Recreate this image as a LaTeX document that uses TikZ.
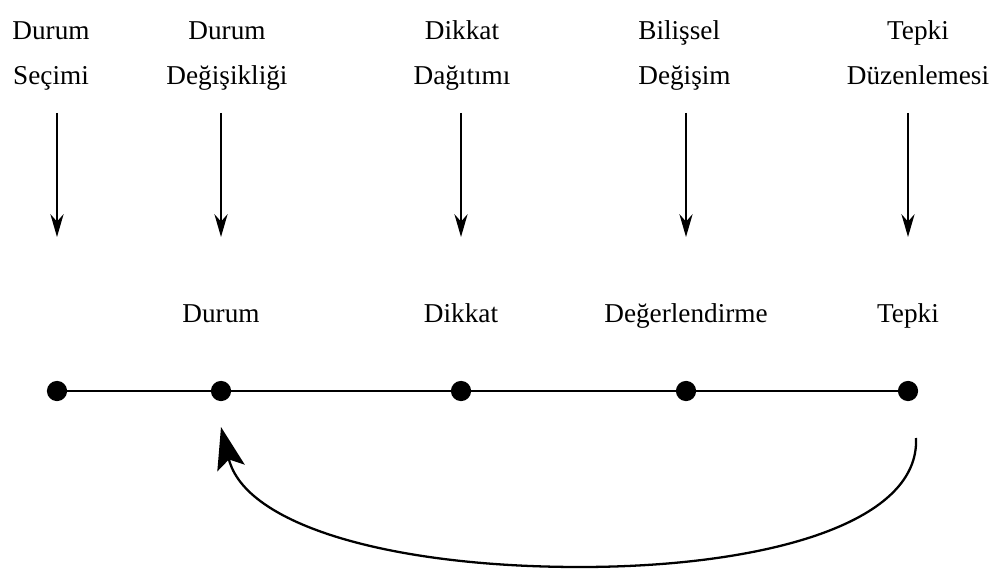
\documentclass[tikz,border=0pt]{standalone}
\usepackage{fontspec}
\setmainfont{Liberation Serif}
\usetikzlibrary{arrows.meta}
\begin{document}
\begin{tikzpicture}[x=0.02cm,y=-0.02cm,
    etiket/.style={align=center,inner sep=0pt,font=\fontsize{15.5}{25.5}\selectfont},
    ok/.style={-{Stealth[length=13pt,width=7.5pt]},line width=1pt},
    nokta/.style={circle,fill=black,inner sep=0pt,minimum size=11.5pt}]
        \useasboundingbox (0,0) rectangle (1003,577);
        % Ust etiketler
        \node [etiket] (s1) at (51,53) {Durum\strut\\Seçimi\strut};
        \node [etiket] (s2) at (227,53) {Durum\strut\\Değişikliği\strut};
        \node [etiket] (s3) at (462,53) {Dikkat\strut\\Dağıtımı\strut};
        \node [etiket,align=left,anchor=west] (s4) at (638,53) {Bilişsel\strut\\Değişim\strut};
        \node [etiket] (s5) at (918,53) {Tepki\strut\\Düzenlemesi\strut};
        % Oklar
        \coordinate (u1) at (57,113);  \coordinate (a1) at (57,237);
        \coordinate (u2) at (221,113); \coordinate (a2) at (221,237);
        \coordinate (u3) at (461,113); \coordinate (a3) at (461,237);
        \coordinate (u4) at (686,113); \coordinate (a4) at (686,237);
        \coordinate (u5) at (908,113); \coordinate (a5) at (908,237);
        \draw [ok] (u1) -- (a1);
        \draw [ok] (u2) -- (a2);
        \draw [ok] (u3) -- (a3);
        \draw [ok] (u4) -- (a4);
        \draw [ok] (u5) -- (a5);
        % Orta etiketler
        \node [etiket] (d2) at (221,314) {Durum\strut};
        \node [etiket] (d3) at (461,314) {Dikkat\strut};
        \node [etiket] (d4) at (686,314) {Değerlendirme\strut};
        \node [etiket] (d5) at (908,314) {Tepki\strut};
        % Noktalar
        \node [nokta] (n1) at (57,391) {};
        \node [nokta] (n2) at (221,391) {};
        \node [nokta] (n3) at (461,391) {};
        \node [nokta] (n4) at (686,391) {};
        \node [nokta] (n5) at (908,391) {};
        \draw [line width=1.2pt] (n1) -- (n2) -- (n3) -- (n4) -- (n5);
        % Geri donus
        \coordinate (g1) at (916,438);
        \coordinate (g2) at (221,427);
        \draw [line width=1.3pt,-{Stealth[length=24pt,width=16pt,inset=5pt]}] (g1) .. controls (920,525) and (760,567) .. (580,567) .. controls (390,567) and (245,525) .. (g2);
    \end{tikzpicture}
\end{document}
